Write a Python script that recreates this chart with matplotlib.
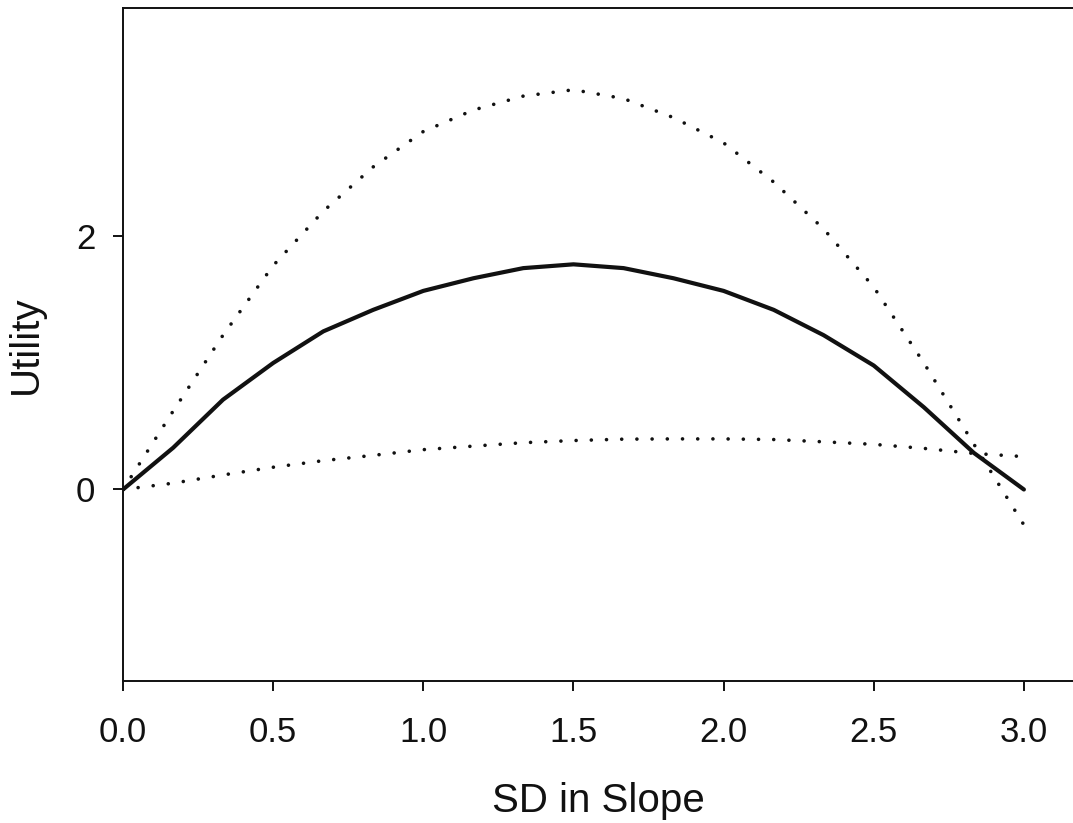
import matplotlib
matplotlib.use("Agg")
import matplotlib.pyplot as plt

plt.rcParams['font.family'] = ['Liberation Sans', 'DejaVu Sans']

# SD in slope grid (sixths from 0 to 3)
sd_slope = [0.0, 0.167, 0.333, 0.5, 0.667, 0.833, 1.0, 1.167, 1.333, 1.5,
            1.667, 1.833, 2.0, 2.167, 2.333, 2.5, 2.667, 2.833, 3.0]

# Expected utility
utility_mean = [0.0, 0.33, 0.71, 1.0, 1.25, 1.42, 1.57, 1.67, 1.75, 1.78,
                1.75, 1.67, 1.57, 1.42, 1.22, 0.98, 0.65, 0.29, 0.0]

# Upper and lower bounds
utility_upper = [0.0, 0.62, 1.22, 1.77, 2.20, 2.55, 2.83, 3.00, 3.11, 3.16,
                 3.09, 2.94, 2.74, 2.43, 2.06, 1.60, 1.00, 0.36, -0.28]
utility_lower = [0.0, 0.05, 0.115, 0.176, 0.228, 0.27, 0.315, 0.343, 0.37, 0.387,
                 0.398, 0.40, 0.40, 0.395, 0.377, 0.357, 0.325, 0.285, 0.26]

x_ticks = [0.0, 0.5, 1.0, 1.5, 2.0, 2.5, 3.0]
x_tick_labels = ["0.0", "0.5", "1.0", "1.5", "2.0", "2.5", "3.0"]
y_ticks = [0, 2]
y_tick_labels = ["0", "2"]

ink = "#111111"

fig = plt.figure(figsize=(10.73, 8.23), dpi=100)
ax = fig.add_axes([123 / 1073, 1 - 681 / 823, 1 - 123 / 1073, (681 - 8) / 823])

dot_style = dict(color=ink, linewidth=2.6, linestyle=(0, (0.01, 4.2)),
                 dash_capstyle="round", solid_capstyle="round")
ax.plot(sd_slope, utility_upper, **dot_style)
ax.plot(sd_slope, utility_lower, **dot_style)
ax.plot(sd_slope, utility_mean, color=ink, linewidth=3.0,
        solid_joinstyle="round", solid_capstyle="round")

ax.set_xlim(0.0, (1073 - 123) / 300.3)
ax.set_ylim(-(681 - 489.5) / 126.5, (489.5 - 8) / 126.5)

ax.set_xticks(x_ticks)
ax.set_xticklabels(x_tick_labels)
ax.set_yticks(y_ticks)
ax.set_yticklabels(y_tick_labels)

for side in ("left", "bottom", "top"):
    ax.spines[side].set_linewidth(1.4)
    ax.spines[side].set_color(ink)
ax.spines["right"].set_visible(False)

ax.tick_params(axis="x", direction="out", length=7, width=1.4, color=ink,
               labelsize=25, pad=18, labelcolor=ink)
ax.tick_params(axis="y", direction="out", length=7, width=1.4, color=ink,
               labelsize=25, pad=13, labelcolor=ink)

ax.set_xlabel("SD in Slope", fontsize=29, color=ink, labelpad=24)
ax.set_ylabel("Utility", fontsize=29, color=ink, labelpad=22)

fig.savefig("out.png", dpi=100)
